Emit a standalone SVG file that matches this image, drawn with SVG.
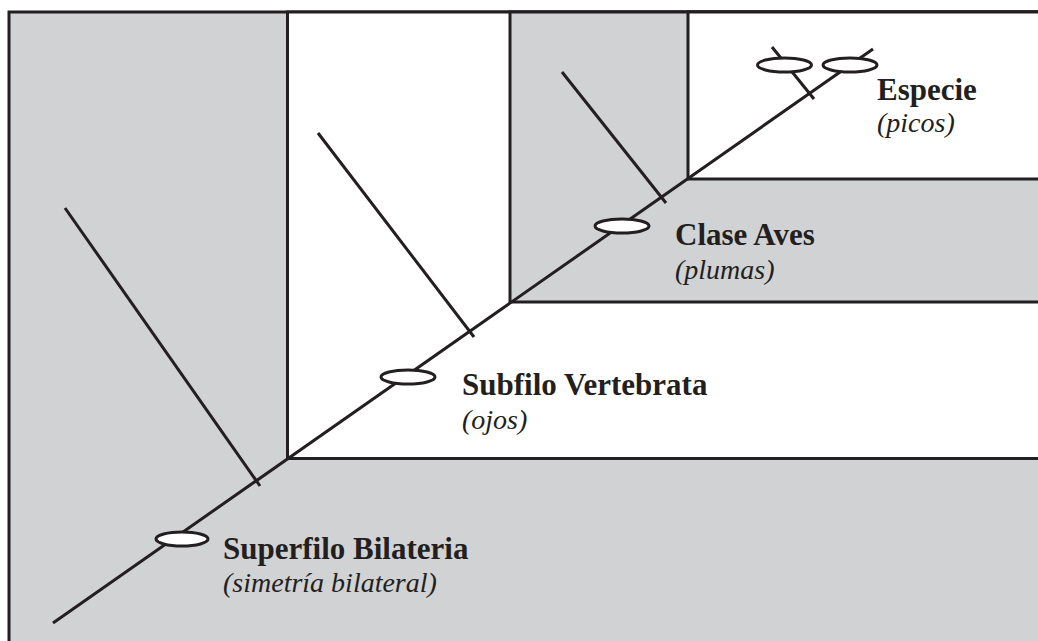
<svg xmlns="http://www.w3.org/2000/svg" width="1038" height="641" viewBox="0 0 1038 641">
<style>
.gray{fill:#d1d2d4;stroke:#231f20;stroke-width:3}
.white{fill:#ffffff;stroke:#231f20;stroke-width:3}
.ln{stroke:#231f20;stroke-width:3;fill:none}
.ell{fill:#ffffff;stroke:#231f20;stroke-width:3}
.b{font-family:"Liberation Serif","Times New Roman",serif;font-weight:bold;font-size:31px;fill:#231f20}
.i{font-family:"Liberation Serif","Times New Roman",serif;font-style:italic;font-size:28px;fill:#231f20}
</style>
<g id="boxes">
<rect class="gray" x="9" y="12" width="1040" height="640"/>
<rect class="white" x="287.5" y="12" width="760" height="446.5"/>
<rect class="gray" x="510" y="12" width="540" height="290"/>
<rect class="white" x="688" y="12" width="360" height="167"/>
</g>
<g id="connectors">
<line class="ln" x1="53" y1="623" x2="873" y2="49"/>
<line class="ln" x1="65" y1="208" x2="260" y2="486"/>
<line class="ln" x1="318" y1="133" x2="474" y2="337"/>
<line class="ln" x1="562" y1="72" x2="666" y2="203"/>
<line class="ln" x1="772" y1="47" x2="814" y2="99"/>
</g>
<g id="superfilo">
<ellipse class="ell" cx="182" cy="539" rx="26" ry="7"/>
<text class="b" x="223" y="559">Superfilo Bilateria</text>
<text class="i" x="223" y="592">(simetría bilateral)</text>
</g>
<g id="subfilo">
<ellipse class="ell" cx="408" cy="377" rx="27" ry="7"/>
<text class="b" x="462" y="395">Subfilo Vertebrata</text>
<text class="i" x="462" y="429">(ojos)</text>
</g>
<g id="clase">
<ellipse class="ell" cx="622" cy="226" rx="27" ry="7"/>
<text class="b" x="675" y="245">Clase Aves</text>
<text class="i" x="675" y="279">(plumas)</text>
</g>
<g id="especie">
<ellipse class="ell" cx="784.5" cy="65" rx="27" ry="7"/>
<ellipse class="ell" cx="850" cy="65" rx="27" ry="7"/>
<text class="b" x="877" y="100">Especie</text>
<text class="i" x="877" y="132">(picos)</text>
</g>
</svg>
